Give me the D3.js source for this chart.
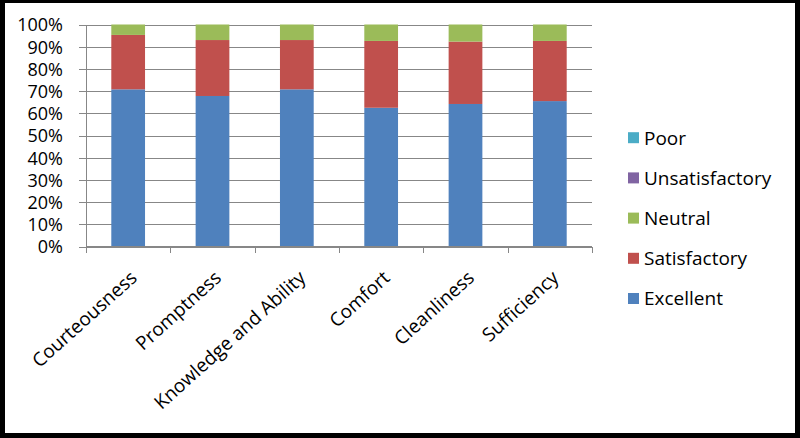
<!DOCTYPE html>
<html>
<head>
<meta charset="utf-8">
<script src="https://cdn.jsdelivr.net/npm/d3@7"></script>
<style>
  html, body { margin: 0; padding: 0; background: #000; }
  svg { display: block; }
  text { font-family: 'Open Sans', 'Liberation Sans', sans-serif; fill: #000; }
</style>
</head>
<body>
<svg id="chart" width="800" height="438"></svg>
<script>
// survey categories along the x axis
const categories = ['Courteousness', 'Promptness', 'Knowledge and Ability', 'Comfort', 'Cleanliness', 'Sufficiency']

// percentages per rating (bottom to top of each bar)
const excellent      = [70.8, 67.8, 70.8, 62.5, 64.2, 65.5]
const satisfactory   = [24.5, 25.2, 22.2, 30.1, 28.1, 27.1]
const neutral        = [4.7, 7.0, 7.0, 7.4, 7.7, 7.4]
const unsatisfactory = [0, 0, 0, 0, 0, 0]
const poor           = [0, 0, 0, 0, 0, 0]

const seriesNames  = ['Excellent', 'Satisfactory', 'Neutral', 'Unsatisfactory', 'Poor']
const seriesColors = ['#4F81BD', '#C0504D', '#9BBB59', '#8064A2', '#4BACC6']
const yTicks = [0, 10, 20, 30, 40, 50, 60, 70, 80, 90, 100]

const rows = categories.map((c, i) => ({
	cat: c,
	Excellent: excellent[i],
	Satisfactory: satisfactory[i],
	Neutral: neutral[i],
	Unsatisfactory: unsatisfactory[i],
	Poor: poor[i]
}))

const svg = d3.select('#chart')

// white panel inside the black frame
svg.append('rect')
	.attr('x', 5).attr('y', 3)
	.attr('width', 790).attr('height', 430)
	.attr('fill', '#fff')

const plotLeft = 86, plotRight = 592, plotTop = 24.5, plotBottom = 246.5

const x = d3.scaleBand()
	.domain(categories)
	.range([plotLeft, plotRight])
	.paddingInner(0.6)
	.paddingOuter(0.3)

const y = d3.scaleLinear()
	.domain([0, 100])
	.range([plotBottom, plotTop])

// gridlines + y ticks
const yAxis = svg.append('g')
	.attr('transform', `translate(${plotLeft},0)`)
	.call(d3.axisLeft(y)
		.tickValues(yTicks)
		.tickSize(-(plotRight - plotLeft))
		.tickPadding(0)
		.tickFormat(d => d + '%'))
yAxis.select('.domain').remove()
yAxis.selectAll('.tick line')
	.attr('x1', -7)
	.attr('stroke', '#878787')
	.attr('shape-rendering', 'crispEdges')
yAxis.selectAll('.tick text')
	.attr('x', -23)
	.attr('dy', '0.35em')
	.attr('font-size', 18)
	.style('font-family', "'Open Sans', sans-serif")

// y axis line
svg.append('line')
	.attr('x1', plotLeft).attr('x2', plotLeft)
	.attr('y1', plotTop).attr('y2', plotBottom)
	.attr('stroke', '#878787')
	.attr('shape-rendering', 'crispEdges')

// stacked bars
const stack = d3.stack().keys(seriesNames)
const layers = stack(rows)

svg.append('g')
	.selectAll('g')
	.data(layers)
	.join('g')
	.attr('fill', (d, i) => seriesColors[i])
	.selectAll('rect')
	.data(d => d)
	.join('rect')
	.attr('x', d => x(d.data.cat))
	.attr('width', x.bandwidth())
	.attr('y', d => y(d[1]))
	.attr('height', d => y(d[0]) - y(d[1]))

// x axis: line with ticks at band boundaries
const xb = d3.scaleLinear().domain([0, categories.length]).range([plotLeft, plotRight])
const xAxis = svg.append('g')
	.attr('transform', `translate(0,${plotBottom})`)
	.call(d3.axisBottom(xb).ticks(categories.length).tickSize(6).tickFormat(''))
xAxis.select('.domain')
	.attr('d', `M${plotLeft},0H${plotRight}`)
	.attr('stroke', '#878787')
xAxis.selectAll('.tick line')
	.attr('stroke', '#878787')
	.attr('shape-rendering', 'crispEdges')

// category labels, rotated
svg.append('g')
	.selectAll('text')
	.data(categories)
	.join('text')
	.attr('transform', d => `translate(${x(d) + x.bandwidth() / 2 + 10},${plotBottom + 33}) rotate(-42)`)
	.attr('text-anchor', 'end')
	.attr('font-size', 19)
	.text(d => d)

// legend (reverse order, Poor on top)
const legendY = d3.scalePoint()
	.domain(seriesNames.slice().reverse())
	.range([137.7, 298.5])

const legend = svg.append('g')
	.selectAll('g')
	.data(seriesNames.slice().reverse())
	.join('g')
	.attr('transform', d => `translate(628,${legendY(d)})`)
legend.append('rect')
	.attr('x', 0).attr('y', -5.5)
	.attr('width', 11).attr('height', 11)
	.attr('fill', d => seriesColors[seriesNames.indexOf(d)])
legend.append('text')
	.attr('x', 16)
	.attr('dy', '0.36em')
	.attr('font-size', 19)
	.text(d => d)
</script>
</body>
</html>
